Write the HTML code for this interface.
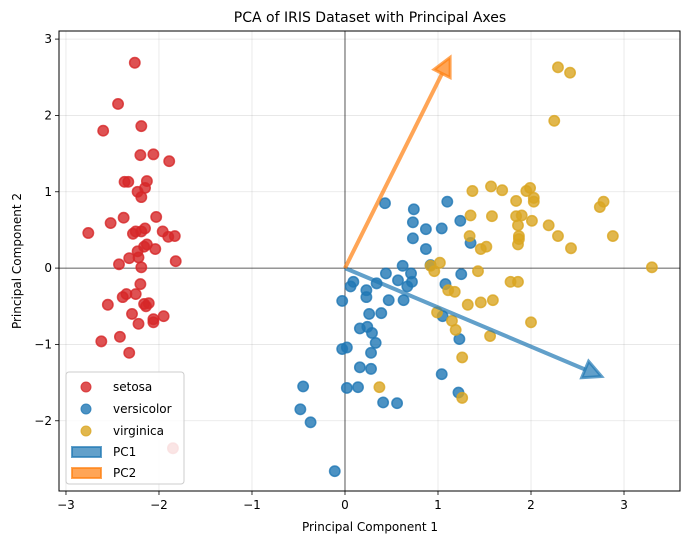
<!DOCTYPE html>
<html><head><meta charset="utf-8"><style>
html,body{margin:0;padding:0;background:#fff;}
svg{display:block;font-family:"DejaVu Sans","Liberation Sans",sans-serif;}
</style></head><body>
<svg id="chart" width="689" height="545" xmlns="http://www.w3.org/2000/svg">
<rect x="0" y="0" width="689" height="545" fill="#fff"/>
<g id="grid"></g>
<g id="axlines"></g>
<g id="points"></g>
<g id="arrows"></g>
<rect x="59" y="31" width="621" height="460" fill="none" stroke="#000" stroke-width="1"/>
<g id="ticks"></g>
<text x="370" y="22" text-anchor="middle" font-size="14">PCA of IRIS Dataset with Principal Axes</text>
<text x="370" y="531" text-anchor="middle" font-size="12">Principal Component 1</text>
<text x="21" y="261" text-anchor="middle" font-size="12" transform="rotate(-90 21 261)">Principal Component 2</text>
<g id="legend">
<rect x="66" y="372" width="118" height="112" rx="3" fill="#fff" fill-opacity="0.85" stroke="#ccc"/>
<g><circle cx="86" cy="387" r="5" fill="#d62728" fill-opacity="0.8" stroke="#d62728" stroke-opacity="0.8"/><text x="113" y="391" font-size="12">setosa</text></g>
<g><circle cx="86" cy="409" r="5" fill="#1f77b4" fill-opacity="0.8" stroke="#1f77b4" stroke-opacity="0.8"/><text x="113" y="413" font-size="12">versicolor</text></g>
<g><circle cx="86" cy="431" r="5" fill="#daa520" fill-opacity="0.8" stroke="#daa520" stroke-opacity="0.8"/><text x="113" y="435" font-size="12">virginica</text></g>
<g><rect x="72" y="447" width="29" height="10" fill="#1f77b4" fill-opacity="0.7" stroke="#1f77b4" stroke-opacity="0.7" stroke-width="2"/><text x="113" y="456" font-size="12">PC1</text></g>
<g><rect x="72" y="468" width="29" height="10" fill="#ff7f0e" fill-opacity="0.7" stroke="#ff7f0e" stroke-opacity="0.7" stroke-width="2"/><text x="113" y="477" font-size="12">PC2</text></g>
</g>
</svg>
<script>
const xTicks=[-3,-2,-1,0,1,2,3];
const yTicks=[-2,-1,0,1,2,3];
const setosaX=[-2.26,-2.44,-2.60,-2.19,-2.20,-2.06,-1.89,-2.37,-2.33,-2.13,-2.15,-2.23,-2.19,-2.38,-2.52,-2.03,-2.76,-2.28,-2.25,-2.19,-2.15,-1.96,-1.90,-1.83,-2.13,-2.16,-2.23,-2.22,-2.04,-2.32,-2.43,-1.82,-2.19,-2.20,-2.35,-2.39,-2.25,-2.55,-2.16,-2.11,-2.14,-2.29,-2.06,-2.06,-1.95,-2.22,-2.42,-2.62,-2.32,-1.85];
const setosaY=[2.69,2.15,1.80,1.86,1.48,1.49,1.40,1.13,1.13,1.14,1.05,1.00,0.93,0.66,0.59,0.67,0.46,0.45,0.48,0.48,0.52,0.48,0.41,0.42,0.31,0.28,0.22,0.14,0.25,0.13,0.05,0.09,0.01,-0.21,-0.34,-0.38,-0.34,-0.48,-0.47,-0.46,-0.50,-0.60,-0.67,-0.71,-0.63,-0.73,-0.90,-0.96,-1.11,-2.36];
const versicolorX=[0.43,0.74,0.73,0.87,1.04,1.10,1.24,0.73,0.87,1.35,0.62,0.92,0.44,0.71,0.57,0.72,0.67,1.25,1.08,0.34,0.09,0.06,0.23,0.23,0.47,0.63,-0.03,0.26,0.39,1.05,0.16,0.24,0.29,0.33,1.23,-0.03,0.02,0.28,0.16,0.28,1.04,0.02,0.14,-0.45,0.41,0.56,1.22,-0.48,-0.37,-0.11];
const versicolorY=[0.85,0.77,0.60,0.51,0.52,0.87,0.62,0.39,0.25,0.33,0.03,0.04,-0.07,-0.07,-0.16,-0.18,-0.24,-0.08,-0.21,-0.20,-0.18,-0.24,-0.29,-0.38,-0.42,-0.42,-0.43,-0.60,-0.59,-0.63,-0.79,-0.77,-0.85,-0.98,-0.93,-1.06,-1.04,-1.11,-1.30,-1.32,-1.39,-1.57,-1.56,-1.55,-1.76,-1.77,-1.63,-1.85,-2.02,-2.66];
const virginicaX=[2.29,2.42,2.25,1.37,1.57,1.69,1.95,1.99,1.84,2.03,2.03,2.74,2.78,1.35,1.58,1.84,1.90,2.01,1.86,2.19,1.34,1.87,1.87,1.86,1.46,1.52,2.29,2.43,2.88,1.02,0.92,0.96,1.43,3.30,1.78,1.86,1.11,1.18,1.32,1.46,1.59,0.99,1.15,1.19,2.00,1.56,1.26,0.37,1.26];
const virginicaY=[2.63,2.56,1.93,1.01,1.07,1.02,1.01,1.05,0.88,0.92,0.87,0.80,0.87,0.69,0.68,0.68,0.69,0.62,0.56,0.56,0.42,0.42,0.38,0.31,0.25,0.28,0.42,0.26,0.42,0.07,0.03,-0.04,-0.04,0.01,-0.18,-0.18,-0.29,-0.31,-0.48,-0.45,-0.42,-0.58,-0.69,-0.81,-0.71,-0.89,-1.17,-1.56,-1.70];
const pcNames=["PC1","PC2"];
const pcX=[2.76,1.13];
const pcY=[-1.42,2.76];

const NS="http://www.w3.org/2000/svg";
const L=59,R=680,T=31,B=491;
const xMin=-3.075,xMax=3.602,yMin=-2.92,yMax=3.106;
function sx(v){return L+(v-xMin)/(xMax-xMin)*(R-L);}
function sy(v){return B-(v-yMin)/(yMax-yMin)*(B-T);}
function mk(tag,attrs,parent){const e=document.createElementNS(NS,tag);for(const k in attrs)e.setAttribute(k,attrs[k]);parent.appendChild(e);return e;}

const grid=document.getElementById('grid'),ticks=document.getElementById('ticks');
xTicks.forEach(t=>{const x=sx(t);
 const g=mk('line',{x1:x,x2:x,y1:T,y2:B,stroke:'#000','stroke-opacity':0.1,'stroke-width':0.8},grid);
 
 
 const tk=mk('line',{x1:x,x2:x,y1:B,y2:B+4,stroke:'#000','stroke-width':0.8},ticks);
 
 
 const tx=mk('text',{x:x,y:B+18,'text-anchor':'middle','font-size':12},ticks);
 tx.textContent=(t<0?'\u2212'+(-t):t);
 
 
});
yTicks.forEach(t=>{const y=sy(t);
 const g=mk('line',{x1:L,x2:R,y1:y,y2:y,stroke:'#000','stroke-opacity':0.1,'stroke-width':0.8},grid);
 
 
 const tk=mk('line',{x1:L-4,x2:L,y1:y,y2:y,stroke:'#000','stroke-width':0.8},ticks);
 
 
 const tx=mk('text',{x:L-7,y:y+4,'text-anchor':'end','font-size':12},ticks);
 tx.textContent=(t<0?'\u2212'+(-t):t);
 
 
});
const ax=document.getElementById('axlines');
const h=mk('line',{x1:L,x2:R,y1:sy(0),y2:sy(0),stroke:'#000','stroke-width':0.8,'stroke-opacity':0.8},ax);


const v=mk('line',{x1:sx(0),x2:sx(0),y1:T,y2:B,stroke:'#000','stroke-width':0.8,'stroke-opacity':0.8},ax);



const pts=document.getElementById('points');
function series(xs,ys,color,name){xs.forEach((xv,i)=>{
 const c=mk('circle',{cx:sx(xv),cy:sy(ys[i]),r:5.2,fill:color,'fill-opacity':0.8,stroke:color,'stroke-opacity':0.8,'stroke-width':1.5},pts);
 
 
});}
series(setosaX,setosaY,'#d62728','setosa');
series(versicolorX,versicolorY,'#1f77b4','versicolor');
series(virginicaX,virginicaY,'#daa520','virginica');

const arr=document.getElementById('arrows');
const pcColors=['#1f77b4','#ff7f0e'];
pcNames.forEach((n,i)=>{
 const x0=sx(0),y0=sy(0),x1=sx(pcX[i]),y1=sy(pcY[i]);
 const dx=x1-x0,dy=y1-y0,len=Math.hypot(dx,dy),ux=dx/len,uy=dy/len;
 const hl=18,hw=9;
 const bx=x1-ux*hl,by=y1-uy*hl;
 const g=mk('g',{},arr);
 
 
 mk('line',{x1:x0,y1:y0,x2:bx,y2:by,stroke:pcColors[i],'stroke-opacity':0.7,'stroke-width':4},g);
 mk('polygon',{points:`${x1},${y1} ${bx-uy*hw},${by+ux*hw} ${bx+uy*hw},${by-ux*hw}`,fill:pcColors[i],'fill-opacity':0.7,stroke:pcColors[i],'stroke-opacity':0.7,'stroke-width':3,'stroke-linejoin':'miter'},g);
});
</script>
</body></html>
